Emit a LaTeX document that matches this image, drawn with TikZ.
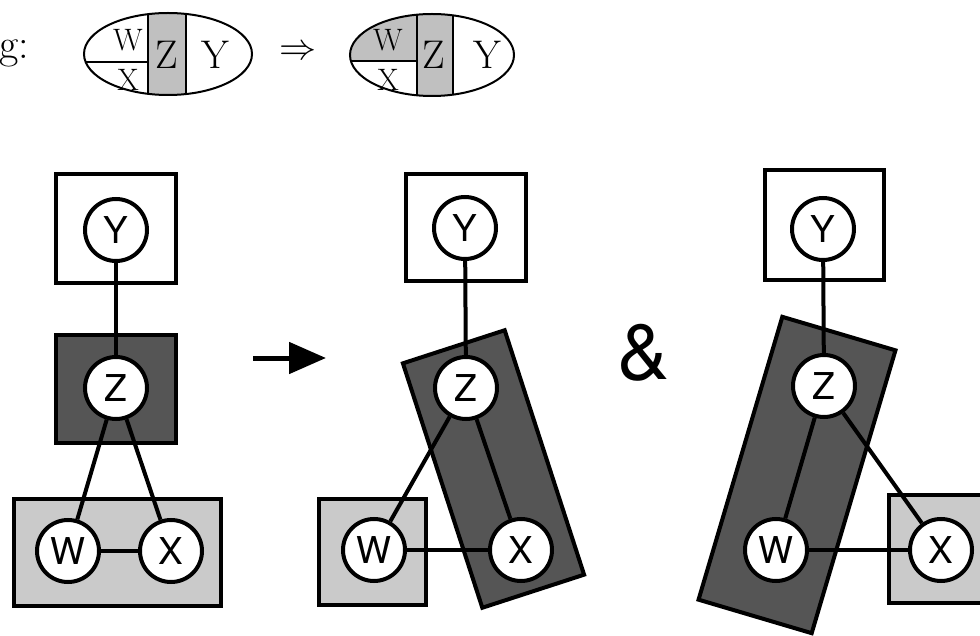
\documentclass[tikz,border=0pt]{standalone}
\usepackage{fontspec}
\newfontfamily\hv{TeX Gyre Heros}
\usetikzlibrary{arrows.meta}
\definecolor{darkbox}{RGB}{85,85,85}
\definecolor{lightbox}{RGB}{202,202,202}
\definecolor{bandgray}{RGB}{192,192,192}
\tikzset{
 box/.style={draw=black, line width=4pt, inner sep=0pt},
 wbox/.style={box, fill=white},
 lbox/.style={box, fill=lightbox},
 dbox/.style={box, fill=darkbox},
 var/.style={circle, draw=black, line width=4pt, fill=white, minimum size=62pt, inner sep=0pt, font=\hv\fontsize{37}{37}\selectfont},
 edge/.style={line width=4pt},
 ell/.style={line width=2pt},
 serifbig/.style={font=\fontsize{40}{40}\selectfont, inner sep=0pt},
 serifsmall/.style={font=\fontsize{31}{31}\selectfont, inner sep=0pt},
}
\begin{document}
\begin{tikzpicture}[x=1pt,y=-1pt]
\useasboundingbox (0,0) rectangle (980,636);
\clip (0,0) rectangle (980,636);

% ---- top row ----
\node[font=\fontsize{42}{42}\selectfont, inner sep=0pt, anchor=base west] (g) at (-1,59) {g:};

% ellipse 1
\begin{scope}
  \clip (168,54) ellipse [x radius=84, y radius=41];
  \fill[bandgray] (148,0) rectangle (186,110);
  \draw[ell] (148,0) -- (148,110);
  \draw[ell] (186,0) -- (186,110);
  \draw[ell] (60,62) -- (148,62);
\end{scope}
\draw[ell] (168,54) ellipse [x radius=84, y radius=41];
\node[serifsmall] (e1w) at (128,40) {W};
\node[serifsmall] (e1x) at (128,80) {X};
\node[serifbig] (e1z) at (167,55) {Z};
\node[serifbig] (e1y) at (215,55) {Y};

\node[scale=3.7, inner sep=0pt] (imp) at (298,53) {$\Rightarrow$};

% ellipse 2
\begin{scope}
  \clip (432,55) ellipse [x radius=82, y radius=41];
  \fill[bandgray] (417,0) rectangle (453,110);
  \fill[bandgray] (330,0) rectangle (417,61);
  \draw[ell] (417,0) -- (417,110);
  \draw[ell] (453,0) -- (453,110);
  \draw[ell] (330,61) -- (417,61);
\end{scope}
\draw[ell] (432,55) ellipse [x radius=82, y radius=41];
\node[serifsmall] (e2w) at (388,40) {W};
\node[serifsmall] (e2x) at (388,80) {X};
\node[serifbig] (e2z) at (434,55) {Z};
\node[serifbig] (e2y) at (487,55) {Y};

% ---- left diagram ----
\node[wbox, minimum width=120pt, minimum height=109pt] (LYb) at (116,229) {};
\node[dbox, minimum width=120pt, minimum height=108pt] (LZb) at (116,389) {};
\node[lbox, minimum width=207pt, minimum height=107pt] (LWXb) at (117.5,552.5) {};
\node[var] (LY) at (116,230) {Y};
\node[var] (LZ) at (116,388) {Z};
\node[var] (LW) at (68,551) {W};
\node[var] (LX) at (171,551) {X};
\draw[edge] (LY) -- (LZ);
\draw[edge] (LZ) -- (LW);
\draw[edge] (LZ) -- (LX);
\draw[edge] (LW) -- (LX);

% arrow
\coordinate (a1) at (253,358);
\coordinate (a2) at (326,358);
\draw[line width=5pt, -{Triangle[length=37pt,width=31pt]}] (a1) -- (a2);

% ---- middle diagram ----
\node[wbox, minimum width=120pt, minimum height=107pt] (MYb) at (466,227.5) {};
\node[lbox, minimum width=107pt, minimum height=106pt] (MWb) at (372.5,552) {};
\node[dbox, rotate=18, minimum width=107pt, minimum height=257pt] (MZXb) at (493.5,469) {};
\node[var] (MY) at (465,228) {Y};
\node[var] (MZ) at (466,388) {Z};
\node[var] (MW) at (374,550) {W};
\node[var] (MX) at (521,550) {X};
\draw[edge] (MY) -- (MZ);
\draw[edge] (MZ) -- (MW);
\draw[edge] (MZ) -- (MX);
\draw[edge] (MW) -- (MX);

% ampersand
\node[font=\hv\fontsize{78}{78}\selectfont, inner sep=0pt] (amp) at (644,353) {\&};

% ---- right diagram ----
\node[wbox, minimum width=119pt, minimum height=110pt] (RYb) at (824.5,225) {};
\node[lbox, minimum width=104pt, minimum height=108pt] (RXb) at (941,549) {};
\node[dbox, rotate=-16.5, minimum width=118pt, minimum height=295pt] (RZWb) at (797,475) {};
\node[var] (RY) at (823,229) {Y};
\node[var] (RZ) at (824,386) {Z};
\node[var] (RW) at (776,550) {W};
\node[var] (RX) at (941,550) {X};
\draw[edge] (RY) -- (RZ);
\draw[edge] (RZ) -- (RW);
\draw[edge] (RZ) -- (RX);
\draw[edge] (RW) -- (RX);
\end{tikzpicture}
\end{document}
